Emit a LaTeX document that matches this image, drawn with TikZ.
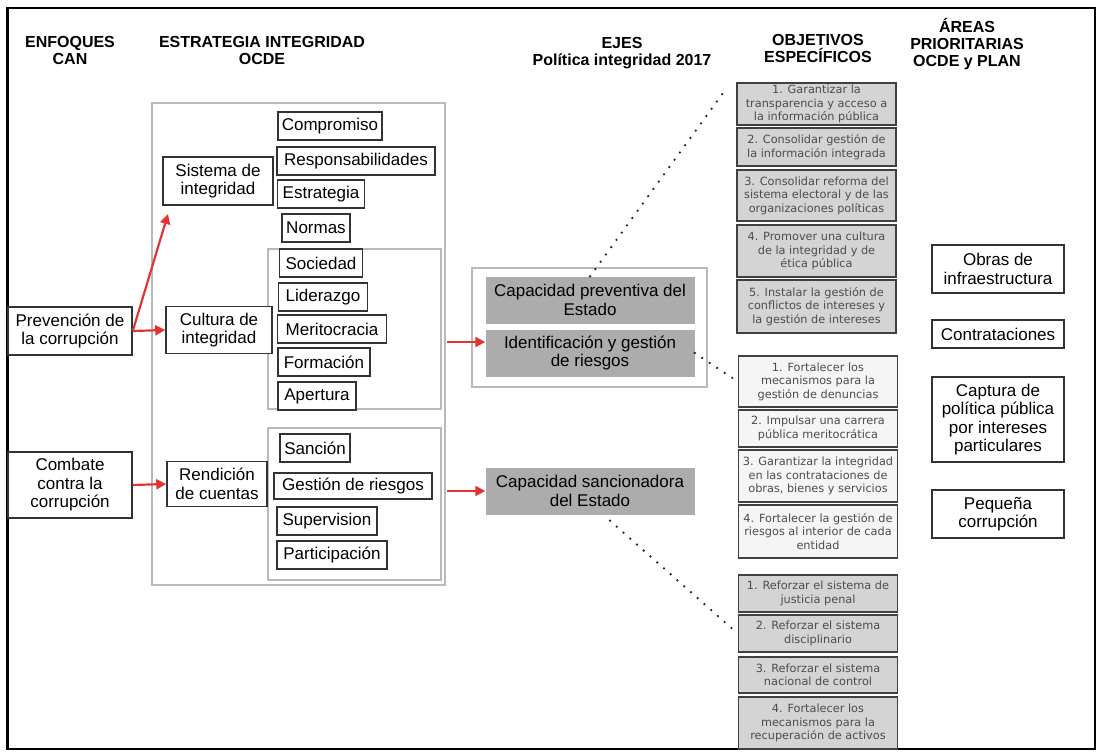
\documentclass[tikz,border=0pt]{standalone}
\usepackage{fontspec}
\setmainfont{Liberation Sans}
\newfontfamily\objfont{DejaVu Sans}
\usetikzlibrary{arrows.meta}

\definecolor{arrowred}{RGB}{226,52,52}
\definecolor{ejegray}{RGB}{172,172,172}
\definecolor{objgray}{RGB}{212,212,212}
\definecolor{objlight}{RGB}{245,245,245}

\begin{document}
\begin{tikzpicture}
    [
        x = 1pt, y = -1pt,
        every node/.append style = {align = center, font = \fontsize{17}{18.5}\selectfont},
        head/.style = {font = \fontsize{16}{17}\selectfont\bfseries},
        frame/.style = {draw = gray!55, line width = 1.2pt},
        item/.style = {draw = black!80, fill = white, line width = 1.5pt, inner sep = 2pt, minimum height = 28},
        eje/.style = {fill = ejegray, minimum width = 209, minimum height = 47, inner sep = 2pt},
        obj/.style = {draw = black!75, line width = 1.7pt, minimum width = 159, inner sep = 1pt,
                      text = black!70, font = \objfont\fontsize{11.3}{13.5}\selectfont},
        area/.style = {draw = black!80, line width = 1.5pt, minimum width = 132, inner sep = 2pt},
        redarrow/.style = {draw = arrowred, line width = 2.2pt, -{Triangle[length = 10pt, width = 10pt]}},
        dots/.style = {line width = 2.6pt, dash pattern = on 0pt off 9pt, line cap = round, black!85}]

    \useasboundingbox (0,0) rectangle (1101,752);
    \draw [line width = 2pt] (7,8) rectangle (1095,749);
    \draw [line width = 3pt] (7,8) -- (7,749);

    % headers
    \node [head] (hcan)  at (70,50)  {ENFOQUES\\CAN};
    \node [head] (hocde) at (262,50) {ESTRATEGIA INTEGRIDAD\\OCDE};
    \node [head] (hejes) at (622,53) {EJES\\Política integridad 2017};
    \node [head] (hobj)  at (818,48) {OBJETIVOS\\ESPECÍFICOS};
    \node [head] (harea) at (967,44) {ÁREAS\\PRIORITARIAS\\OCDE y PLAN};

    % enfoques CAN
    \node [item, minimum width = 124, minimum height = 48] (prev) at (70,331) {Prevención de\\la corrupción};
    \node [item, minimum width = 124, minimum height = 66] (comb) at (70,485) {Combate\\contra la\\corrupción};

    % estrategia OCDE
    \node [frame, minimum width = 293, minimum height = 482] (estr) at (298.5,344) {};
    \node [frame, minimum width = 173, minimum height = 160] (cultframe) at (354.5,329) {};
    \node [frame, minimum width = 173, minimum height = 152] (rendframe) at (354.5,504) {};

    \node [item, minimum width = 110, minimum height = 48] (sist) at (218,181) {Sistema de\\integridad};
    \node [item, minimum width = 106, minimum height = 47] (cult) at (219,330) {Cultura de\\integridad};
    \node [item, minimum width = 100, minimum height = 45] (rend) at (217,484) {Rendición\\de cuentas};

    \node [item, minimum width = 104] (compr) at (330,126) {Compromiso};
    \node [item, minimum width = 158] (resp)  at (356,161) {Responsabilidades};
    \node [item, minimum width = 87]  (estra) at (321,194) {Estrategia};
    \node [item, minimum width = 68]  (norm)  at (316,228) {Normas};
    \node [item, minimum width = 83]  (soc)   at (321,263) {Sociedad};
    \node [item, minimum width = 89]  (lid)   at (323,297) {Liderazgo};
    \node [item, minimum width = 109] (merit) at (332,329) {Meritocracia};
    \node [item, minimum width = 92]  (form)  at (324,362) {Formación};
    \node [item, minimum width = 78]  (apert) at (317,396) {Apertura};
    \node [item, minimum width = 70]  (sanci) at (315,448) {Sanción};
    \node [item, minimum width = 158, minimum height = 26] (gest) at (353,486) {Gestión de riesgos};
    \node [item, minimum width = 100] (superv) at (327,521) {Supervision};
    \node [item, minimum width = 110] (partic) at (332,555) {Participación};

    % ejes
    \node [frame, minimum width = 235, minimum height = 119] (ejesframe) at (589.5,327.5) {};
    \node [eje] (prevent) at (590,300) {Capacidad preventiva del\\Estado};
    \node [eje] (ident)   at (590,353) {Identificación y gestión\\de riesgos};
    \node [eje] (sanc)    at (590,491) {Capacidad sancionadora\\del Estado};

    % objetivos especificos
    \node [obj, fill = objgray, minimum height = 42] (o1) at (816.5,104)   {1. Garantizar la\\transparencia y acceso a\\la información pública};
    \node [obj, fill = objgray, minimum height = 38] (o2) at (816.5,147)   {2. Consolidar gestión de\\la información integrada};
    \node [obj, fill = objgray, minimum height = 51] (o3) at (816.5,195.5) {3. Consolidar reforma del\\sistema electoral y de las\\organizaciones políticas};
    \node [obj, fill = objgray, minimum height = 52] (o4) at (816.5,251)   {4. Promover una cultura\\de la integridad y de\\ética pública};
    \node [obj, fill = objgray, minimum height = 53] (o5) at (816.5,306.5) {5. Instalar la gestión de\\conflictos de intereses y\\la gestión de intereses};

    \node [obj, fill = objlight, minimum height = 51] (m1) at (818,381.5) {1. Fortalecer los\\mecanismos para la\\gestión de denuncias};
    \node [obj, fill = objlight, minimum height = 37] (m2) at (818,428.5) {2. Impulsar una carrera\\pública meritocrática};
    \node [obj, fill = objlight, minimum height = 52] (m3) at (818,476)   {3. Garantizar la integridad\\en las contrataciones de\\obras, bienes y servicios};
    \node [obj, fill = objlight, minimum height = 53] (m4) at (818,531.5) {4. Fortalecer la gestión de\\riesgos al interior de cada\\entidad};

    \node [obj, fill = objgray, minimum height = 37] (b1) at (818,593.5) {1. Reforzar el sistema de\\justicia penal};
    \node [obj, fill = objgray, minimum height = 37] (b2) at (818,633.5) {2. Reforzar el sistema\\disciplinario};
    \node [obj, fill = objgray, minimum height = 36] (b3) at (818,675)   {3. Reforzar el sistema\\nacional de control};
    \node [obj, fill = objgray, minimum height = 52] (b4) at (818,723)   {4. Fortalecer los\\mecanismos para la\\recuperación de activos};

    % areas prioritarias
    \node [area, minimum height = 48] (obras)  at (998,269)   {Obras de\\infraestructura};
    \node [area, minimum height = 28] (contr)  at (998,334)   {Contrataciones};
    \node [area, minimum height = 85] (captu)  at (998,419.5) {Captura de\\política pública\\por intereses\\particulares};
    \node [area, minimum height = 48] (pequ)   at (998,514)   {Pequeña\\corrupción};

    % conectores
    \coordinate (sistin) at (168,214);
    \coordinate (cultout) at (447,342);
    \coordinate (rendout) at (447,491);
    \coordinate (o1in) at (723,93);

    \draw [redarrow] (prev.east) -- (sistin);
    \draw [redarrow] (prev.east) -- (cult.west);
    \draw [redarrow] (comb.east) -- (rend.west);
    \draw [redarrow] (cultout) -- (ident.west |- cultout);
    \draw [redarrow] (rendout) -- (sanc.west);

    \draw [dots] (prevent.north) -- (o1in);
    \draw [dots] (ident.east) -- (m1.west);
    \draw [dots] ([xshift = 20pt, yshift = -6pt]sanc.south) -- (b2.west);

\end{tikzpicture}
\end{document}
